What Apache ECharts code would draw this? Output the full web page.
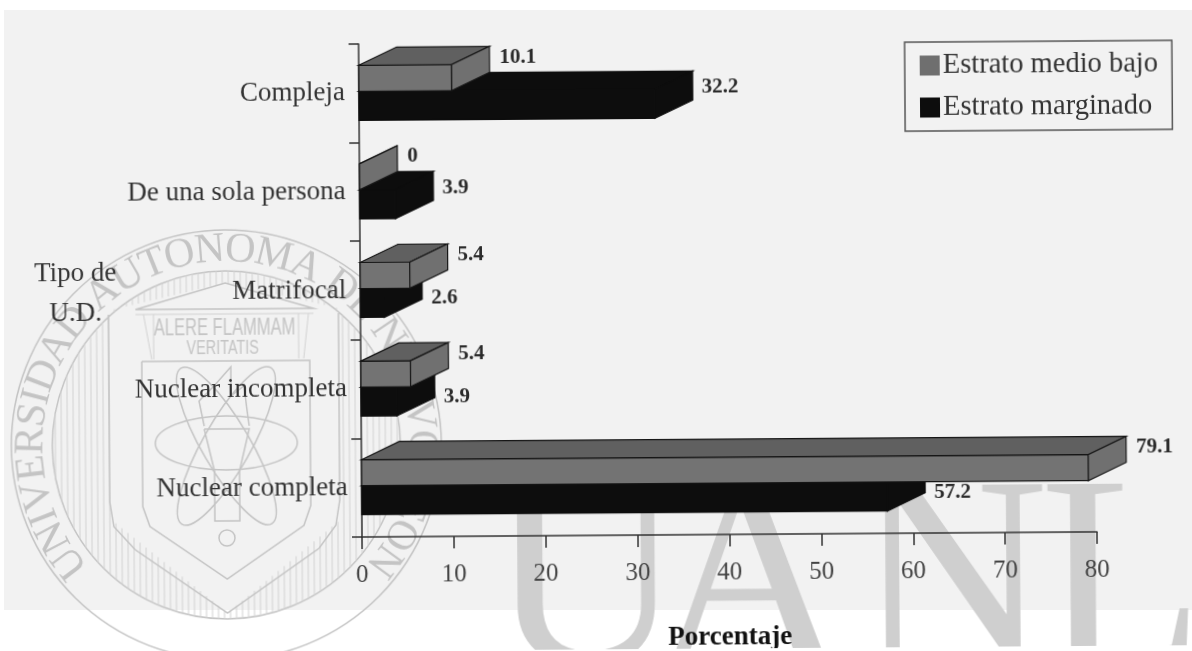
<!DOCTYPE html>
<html>
<head>
<meta charset="utf-8">
<style>
  html, body { margin: 0; height: 100%; background: #fff; overflow: hidden; }
  /* zona gris del escaneo */
  #paper { position: absolute; left: 4px; top: 10px; width: 1188px; height: 600px; background: #f2f2f2; }
  /* el escaneo original esta ligeramente girado y algo borroso */
  #main { position: absolute; left: 0; top: 0; width: 1192px; height: 651px; transform: rotate(-0.4deg); transform-origin: 362px 537px; filter: blur(0.5px); }
</style>
<script src="https://cdn.jsdelivr.net/npm/echarts@6/dist/echarts.min.js"></script>
</head>
<body>
<div id="paper"></div>
<div id="main"></div>
<script>
const categories = ["Compleja", "De una sola persona", "Matrifocal", "Nuclear incompleta", "Nuclear completa"];
const medioBajo = [10.1, 0, 5.4, 5.4, 79.1];
const marginado = [32.2, 3.9, 2.6, 3.9, 57.2];
const xTicks = [0, 10, 20, 30, 40, 50, 60, 70, 80];

const serif = "Liberation Serif";
const depthX = 38;
const depthY = 18;
const markColor = "#c4c4c4";

// barra con efecto 3D, el largo sale del eje de valores
const bar3d = (offset, height, colors, edge, labelGap, labelShift) => (params, api) => {
  const value = api.value(0);
  const end = api.coord([value, api.value(1)]);
  const start = api.coord([0, api.value(1)]);
  const x0 = start[0];
  const x1 = end[0];
  const y0 = end[1] + offset;
  const y1 = y0 + height;
  const poly = (points, fill) => ({
    type: "polygon",
    shape: { points },
    style: { fill, stroke: edge, lineWidth: 1.2 },
  });
  return {
    type: "group",
    children: [
      poly([[x0, y0], [x1, y0], [x1, y1], [x0, y1]], colors[0]),
      poly([[x0, y0], [x0 + depthX, y0 - depthY], [x1 + depthX, y0 - depthY], [x1, y0]], colors[1]),
      poly([[x1, y0], [x1 + depthX, y0 - depthY], [x1 + depthX, y1 - depthY], [x1, y1]], colors[2]),
      {
        type: "text",
        style: {
          text: String(value),
          x: x1 + depthX + labelGap,
          y: (y0 + y1) / 2 - depthY + labelShift(params.dataIndex),
          fill: "#2b2b2b",
          font: "bold 21px '" + serif + "'",
          textVerticalAlign: "middle",
        },
      },
    ],
  };
};

// marca de agua: escudo de la universidad y letras UANL
const sealX = 227;
const sealY = 444;
const watermark = [];
const addLine = (x1, y1, x2, y2) =>
  watermark.push({ type: "line", shape: { x1, y1, x2, y2 }, style: { stroke: "#d2d2d2", lineWidth: 1 } });
const addPath = (points) =>
  watermark.push({ type: "polyline", shape: { points }, style: { stroke: markColor, lineWidth: 1.5, fill: null } });
const addText = (text, x, y, font, rotation, color, scaleX, align) =>
  watermark.push({
    type: "text",
    x, y,
    rotation: rotation || 0,
    scaleX: scaleX || 1,
    style: { text, font, fill: color || markColor, textAlign: align || "center", textVerticalAlign: "middle" },
  });
const addRing = (cx, cy, r) =>
  watermark.push({ type: "circle", shape: { cx, cy, r }, style: { stroke: markColor, lineWidth: 1.5, fill: null } });

addRing(sealX, sealY, 215);
addRing(sealX, sealY, 174);

// texto en circulo, con el ancho aproximado de cada letra
const ringText = "UNIVERSIDAD AUTONOMA DE NUEVO LEON";
const letterWidth = { I: 0.33, T: 0.61, E: 0.61, L: 0.61, S: 0.56, R: 0.67, M: 0.89, " ": 0.25 };
const widths = ringText.split("").map((c) => letterWidth[c] || 0.72);
const totalWidth = widths.reduce((a, b) => a + b, 0);
let used = 0;
ringText.split("").forEach((c, i) => {
  const angle = ((used + widths[i] / 2) / totalWidth - 0.5) * (262 * Math.PI / 180);
  used += widths[i];
  if (c !== " ") {
    addText(c, sealX + 195 * Math.sin(angle), sealY - 195 * Math.cos(angle), "42px '" + serif + "'", -angle);
  }
});

// rayado vertical
const shieldTop = (x) => 308 - 26 * (1 - Math.abs(x - sealX) / 113);
const shieldBottom = (x) => 612 - 92 * (Math.abs(x - sealX) / 113);
for (let x = sealX - 171; x <= sealX + 171; x += 6) {
  const h = Math.sqrt(174 * 174 - (x - sealX) * (x - sealX));
  if (Math.abs(x - sealX) < 113) {
    addLine(x, sealY - h, x, shieldTop(x));
    addLine(x, shieldBottom(x), x, sealY + h);
  } else {
    addLine(x, sealY - h, x, sealY + h);
  }
}

// escudo
addPath([[110, 313], [110, 500], [114, 525], [135, 548], [227, 612], [319, 548], [336, 525], [340, 500], [340, 313]]);
addPath([[143, 360], [143, 505], [150, 525], [227, 578], [304, 525], [311, 505], [311, 360], [143, 360]]);
addPath([[137, 308], [227, 282], [315, 308], [137, 308]]);
addLine(137, 313, 315, 313);
addLine(145, 313, 153, 358);
addLine(155, 313, 155, 358);
addLine(300, 313, 300, 358);
addLine(310, 313, 305, 358);
addText("ALERE FLAMMAM", 226, 328, "23px 'Liberation Sans'", 0, null, 0.72);
addText("VERITATIS", 224, 347, "20px 'Liberation Sans'", 0, null, 0.72);

// antorcha y atomo
const addEllipse = (cx, cy, rx, ry, rotation) =>
  watermark.push({
    type: "ellipse",
    x: cx, y: cy, rotation,
    shape: { cx: 0, cy: 0, rx, ry },
    style: { stroke: markColor, lineWidth: 1.5, fill: null },
  });
addEllipse(227, 442, 71, 27, 0);
addEllipse(227, 445, 90, 24, 1.05);
addEllipse(227, 445, 90, 24, -1.05);
addRing(227, 537, 8);
addPath([[205, 428], [250, 428], [240, 470], [240, 520], [215, 520], [215, 470], [205, 428]]);
addPath([[205, 425], [200, 400], [215, 385], [232, 366], [232, 395], [245, 385], [248, 410], [250, 425]]);

// letras de fondo
[["U", 489], ["A", 652], ["N", 855], ["L", 1040]].forEach((l) => {
  addText(l[0], l[1], 594, "268px '" + serif + "'", 0, "#cfcfcf", 1, "left");
});

const chart = echarts.init(document.getElementById("main"), null, { renderer: "canvas" });
chart.setOption({
  animation: false,
  backgroundColor: "transparent",
  textStyle: { fontFamily: serif },
  grid: { left: 362, right: 95, top: 44, bottom: 114, outerBoundsMode: "none" },
  legend: {
    data: ["Estrato medio bajo", "Estrato marginado"],
    orient: "vertical",
    left: 908,
    top: 46,
    align: "left",
    icon: "rect",
    itemWidth: 20,
    itemHeight: 20,
    itemGap: 13,
    padding: [9, 14, 9, 15],
    borderColor: "#555",
    borderWidth: 1.5,
    textStyle: { fontFamily: serif, fontSize: 28.5, color: "#333", padding: [0, 0, 0, -2] },
  },
  xAxis: {
    type: "value",
    min: 0,
    max: 80,
    interval: 10,
    name: "Porcentaje",
    nameLocation: "middle",
    nameGap: 90,
    nameTextStyle: { fontFamily: serif, fontSize: 27, fontWeight: "bold", color: "#111" },
    splitLine: { show: false },
    axisLine: { show: true, lineStyle: { color: "#333", width: 1.5 } },
    axisTick: { show: true, length: 12, lineStyle: { color: "#333", width: 1.5 } },
    axisLabel: {
      margin: 26,
      fontFamily: serif,
      fontSize: 25,
      color: "#444",
      formatter: (v) => (xTicks.includes(v) ? String(v) : ""),
    },
  },
  yAxis: {
    type: "category",
    inverse: true,
    data: categories,
    axisLine: { show: true, lineStyle: { color: "#333", width: 1.5 } },
    axisTick: { show: true, length: 10, lineStyle: { color: "#333", width: 1.5 } },
    axisLabel: { margin: 14, fontFamily: serif, fontSize: 27, color: "#333" },
  },
  series: [
    {
      name: "Estrato medio bajo",
      type: "custom",
      z: 3,
      clip: false,
      itemStyle: { color: "#6f6f6f" },
      encode: { x: 0, y: 1 },
      renderItem: bar3d(-28, 26, ["#737373", "#606060", "#707070"], "#151515", 10, () => -2),
      data: medioBajo.map((v, i) => [v, i]),
    },
    {
      name: "Estrato marginado",
      type: "custom",
      z: 2,
      clip: false,
      itemStyle: { color: "#0d0d0d" },
      encode: { x: 0, y: 1 },
      // si la barra gris es mas larga, la etiqueta baja para no taparse
      renderItem: bar3d(-2, 29, ["#0d0d0d", "#0d0d0d", "#0d0d0d"], "#0d0d0d", 9, (i) => (marginado[i] < medioBajo[i] ? 14 : 2)),
      data: marginado.map((v, i) => [v, i]),
    },
  ],
  graphic: [
    { type: "group", z: -10, silent: true, children: watermark },
    {
      type: "text", left: 36, top: 252, z: 5,
      style: { text: "Tipo de\nU.D.", font: "27px '" + serif + "'", fill: "#333", textAlign: "center", lineHeight: 40 },
    },
  ],
});
</script>
</body>
</html>
